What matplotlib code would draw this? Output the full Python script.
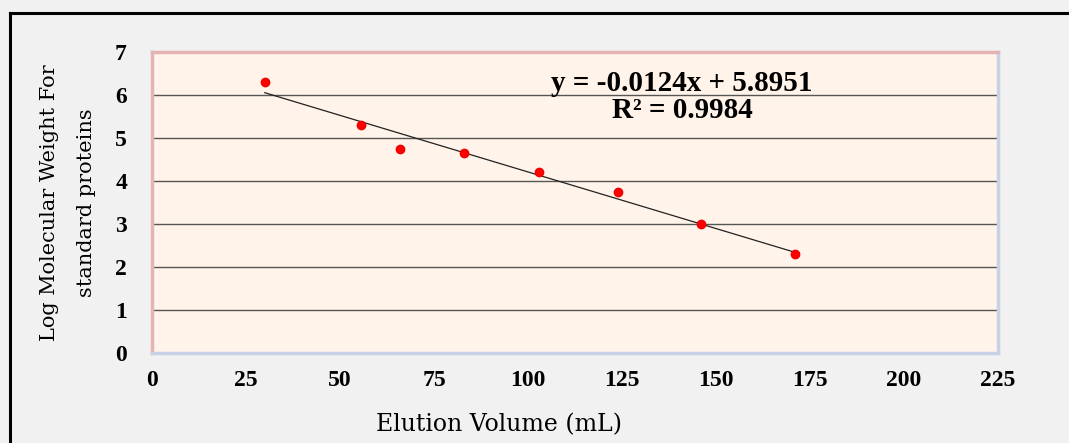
import matplotlib
matplotlib.use('Agg')
import matplotlib.pyplot as plt
from matplotlib.lines import Line2D
import numpy as np

# standard proteins: elution volume (mL) vs log molecular weight
elution_ml = [30, 55.5, 66, 83, 103, 124, 146, 171]
log_mw = [6.3, 5.3, 4.75, 4.65, 4.2, 3.75, 3.0, 2.3]
x_ticks = [0, 25, 50, 75, 100, 125, 150, 175, 200, 225]
y_ticks = [0, 1, 2, 3, 4, 5, 6, 7]
eq_text = 'y = -0.0124x + 5.8951\nR² = 0.9984'

plt.rcParams['font.family'] = ['Liberation Serif', 'DejaVu Serif']

fig = plt.figure(figsize=(10.69, 4.43), dpi=100, facecolor='#f1f1f1')
ax = fig.add_axes([152 / 1069, 1 - 353 / 443, 846 / 1069, 301 / 443])
ax.set_facecolor('#fff3ea')

# outer black frame (cut at right / bottom like the screenshot)
fig.add_artist(Line2D([10 / 1069, 10 / 1069], [0, 1 - 13 / 443], color='black', lw=2.2,
                      transform=fig.transFigure))
fig.add_artist(Line2D([10 / 1069, 1], [1 - 13 / 443, 1 - 13 / 443], color='black', lw=2.2,
                      transform=fig.transFigure))

for y in y_ticks[1:-1]:
    ax.axhline(y, color='#555555', lw=1.0, zorder=1)

slope, icpt = np.polyfit(elution_ml, log_mw, 1)
xs = np.array([min(elution_ml), max(elution_ml)])
ax.plot(xs, slope * xs + icpt, color='#222222', lw=0.9, zorder=2)
ax.plot(elution_ml, log_mw, 'o', color='#ff0000', ms=6, mec='#ee0000', zorder=3)

ax.set_xlim(0, 225)
ax.set_ylim(0, 7)
ax.set_xticks(x_ticks)
ax.set_yticks(y_ticks)
ax.tick_params(length=0, labelsize=17, pad=12)
ax.tick_params(axis='y', pad=18)
for lab in ax.get_xticklabels() + ax.get_yticklabels():
    lab.set_fontweight('bold')

ax.spines['top'].set_color('#e4b3b3')
ax.spines['left'].set_color('#e4b3b3')
ax.spines['bottom'].set_color('#c9d1e6')
ax.spines['right'].set_color('#c9d1e6')
for s in ax.spines.values():
    s.set_linewidth(2.5)

ax.text(141, 5.95, eq_text, ha='center', va='center', fontsize=21,
        fontweight='bold', linespacing=1.0)

ax.set_xlabel('Elution Volume (mL)', fontsize=17, labelpad=16, x=0.41,
              family='DejaVu Serif')
ax.set_ylabel('Log Molecular Weight For\nstandard proteins', fontsize=15,
              labelpad=14, linespacing=2.2, family='DejaVu Serif')

fig.savefig('out.png', dpi=100, facecolor=fig.get_facecolor())
